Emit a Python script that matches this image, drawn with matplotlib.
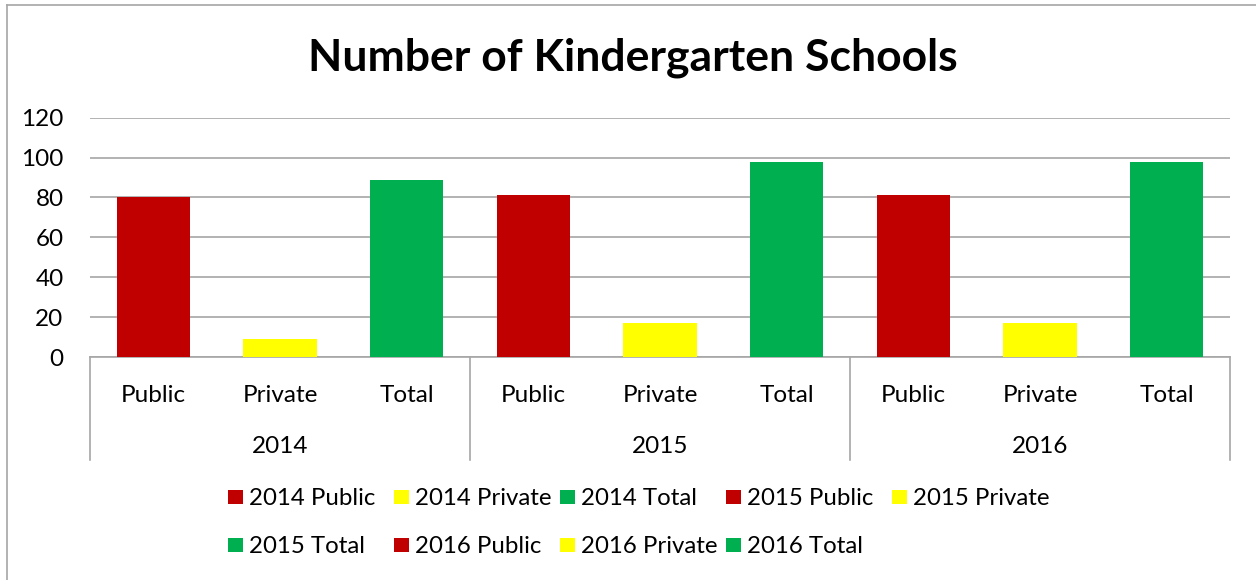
import numpy as np
import matplotlib
matplotlib.use("Agg")
import matplotlib.pyplot as plt
from matplotlib.lines import Line2D
from matplotlib.patches import Rectangle
import matplotlib.transforms as mtransforms

# data
years = ["2014", "2015", "2016"]
kinds = ["Public", "Private", "Total"]
values_2014 = [80, 9, 89]
values_2015 = [81, 17, 98]
values_2016 = [81, 17, 98]
kind_colors = {"Public": "#C00000", "Private": "#FFFF00", "Total": "#00B050"}

plt.rcParams['font.family'] = ['Lato', 'DejaVu Sans']

W, H = 1256, 580
fig = plt.figure(figsize=(W / 100, H / 100), dpi=100)
ax = fig.add_axes([90 / W, 1 - 357 / H, (1230 - 90) / W, (357 - 117.7) / H])

all_values = [values_2014, values_2015, values_2016]
labels, heights, colors, names = [], [], [], []
for y, vals in zip(years, all_values):
    for k, v in zip(kinds, vals):
        labels.append(k)
        heights.append(v)
        colors.append(kind_colors[k])
        names.append(y + " " + k)

x = np.arange(len(heights))
bars = ax.bar(x, heights, width=0.58, color=colors, zorder=3)

ax.set_xlim(-0.5, len(heights) - 0.5)
ax.set_ylim(0, 120)
ax.set_yticks(range(0, 121, 20))
ax.yaxis.grid(True, color="#A6A6A6", linewidth=1.2, zorder=0)
for s in ["top", "right", "left"]:
    ax.spines[s].set_visible(False)
ax.spines["bottom"].set_color("#A6A6A6")
ax.spines["bottom"].set_linewidth(1.2)
ax.tick_params(axis="y", length=0, labelsize=17.5, pad=19)
ax.set_xticks(x)
ax.set_xticklabels(labels)
ax.tick_params(axis="x", length=0, labelsize=17.5, pad=20)

# multi-level category axis: year labels and separators
trans = mtransforms.blended_transform_factory(ax.transData, ax.transAxes)
for i, y in enumerate(years):
    ax.text(3 * i + 1, -0.375, y, transform=trans, ha="center", va="center",
            fontsize=17.5)
for b in [-0.5, 2.5, 5.5, 8.5]:
    ax.add_line(Line2D([b, b], [0, -0.43], transform=trans, color="#A6A6A6",
                       linewidth=1.2, clip_on=False))

ax.set_title("Number of Kindergarten Schools", fontsize=32, fontweight="bold",
             pad=34, x=0.4763)

# legend: Excel style, equal column widths, filled row by row
col_w, row_h = 166, 48
for i, (name, c) in enumerate(zip(names, colors)):
    row, col = divmod(i, 5)
    mx = 228 + col * col_w
    base = 505 + row * row_h
    fig.add_artist(Rectangle((mx / W, 1 - (base - 1) / H), 15 / W, 14 / H,
                             facecolor=c, edgecolor="none",
                             transform=fig.transFigure))
    fig.text((mx + 21) / W, 1 - base / H, name, fontsize=17.3,
             ha="left", va="baseline")

# chart border
fig.add_artist(Line2D([7 / W, 7 / W], [0, 1 - 5 / H], color="#A6A6A6",
                      linewidth=1.2, transform=fig.transFigure))
fig.add_artist(Line2D([7 / W, 1], [1 - 5 / H, 1 - 5 / H], color="#A6A6A6",
                      linewidth=1.2, transform=fig.transFigure))

fig.savefig("out.png", dpi=100)
